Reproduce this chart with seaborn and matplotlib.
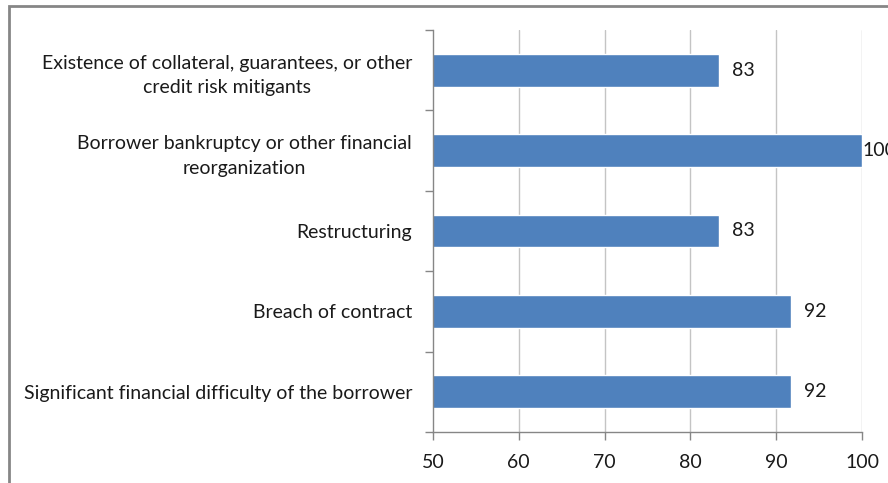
import matplotlib
matplotlib.use("Agg")
import matplotlib.pyplot as plt
import matplotlib.patches as mpatches
import seaborn as sns
import pandas as pd
import numpy as np

categories = [
    "Existence of collateral, guarantees, or other\ncredit risk mitigants",
    "Borrower bankruptcy or other financial\nreorganization",
    "Restructuring",
    "Breach of contract",
    "Significant financial difficulty of the borrower",
]
values = [83.3, 100.0, 83.3, 91.7, 91.7]
x_ticks = [50, 60, 70, 80, 90, 100]

sns.set_theme(style="white")
plt.rcParams["font.family"] = ["Lato", "DejaVu Sans"]

df = pd.DataFrame({"category": categories, "value": values})

fig = plt.figure(figsize=(8.88, 4.83), dpi=100)
W, H = 888, 483
ax = fig.add_axes([433 / W, 1 - 432 / H, (862 - 433) / W, (432 - 30) / H])

sns.barplot(data=df, x="value", y="category", orient="h", color="#4F81BD",
            width=0.41, saturation=1, ax=ax)

ax.set_xlim(50, 100)
ax.set_ylim(len(categories) - 0.5, -0.5)
ax.set_xticks(x_ticks)
ax.set_xticklabels([str(t) for t in x_ticks])
ax.set_xlabel("")
ax.set_ylabel("")

# vertical gridlines
ax.grid(False)
for t in x_ticks[1:]:
    ax.axvline(t, color="#C4C4C4", lw=1, zorder=0)

# spines
for s in ["top", "right"]:
    ax.spines[s].set_visible(False)
for s in ["left", "bottom"]:
    ax.spines[s].set_color("#868686")
    ax.spines[s].set_linewidth(1)

# category boundary ticks on the y axis
ax.set_yticks(np.arange(len(categories) + 1) - 0.5, minor=True)
ax.tick_params(axis="y", which="minor", length=6, color="#868686", width=1, direction="out", left=True)
ax.tick_params(axis="y", which="major", length=0, pad=15, labelsize=14, labelcolor="#1a1a1a")
for lbl in ax.get_yticklabels():
    lbl.set_horizontalalignment("right")
    lbl.set_multialignment("center")
    lbl.set_linespacing(1.55)
ax.tick_params(axis="x", which="major", length=6, color="#868686", width=1, direction="out",
               bottom=True, pad=10, labelsize=14, labelcolor="#1a1a1a")

# value labels
for i, v in enumerate(values):
    pad = 0 if v >= 100 else 13
    ax.annotate(f"{v:.0f}", xy=(v, i), xytext=(pad, 0), textcoords="offset pixels",
                va="center", ha="left", fontsize=14, color="#1a1a1a", annotation_clip=False)

# outer chart frame
frame = mpatches.Rectangle((9 / W, -0.1), 1.2, 1.1 - 6 / H, transform=fig.transFigure,
                           fill=False, edgecolor="#868686", lw=2, clip_on=False)
fig.patches.append(frame)

fig.savefig("out.png", dpi=100)
